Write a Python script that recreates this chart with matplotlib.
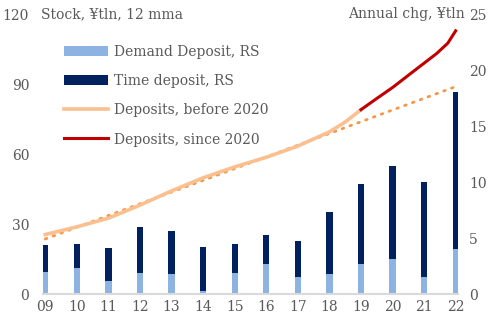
import matplotlib
matplotlib.use("Agg")
import matplotlib.pyplot as plt
from matplotlib.patches import Patch
from matplotlib.lines import Line2D

plt.rcParams['font.family'] = ['DejaVu Serif']

years = ["09", "10", "11", "12", "13", "14", "15", "16", "17", "18", "19", "20", "21", "22"]
demand = [2.0, 2.3, 1.2, 1.9, 1.8, 0.3, 1.85, 2.7, 1.5, 1.75, 2.65, 3.1, 1.55, 4.0]
total_chg = [4.4, 4.5, 4.1, 6.0, 5.65, 4.2, 4.5, 5.3, 4.7, 7.35, 9.8, 11.45, 10.0, 18.05]
time_dep = [t - d for t, d in zip(total_chg, demand)]

before_x = [0, 1, 2, 3, 4, 5, 6, 7, 8, 9, 9.5, 10]
before_y = [25.5, 28.8, 32.5, 38.1, 44.2, 49.8, 54.5, 58.6, 63.4, 69.5, 73.7, 79.0]
since_x = [10, 10.5, 11, 11.65, 12.4, 12.75, 13]
since_y = [79.0, 83.8, 88.5, 95.3, 103.1, 107.5, 112.8]
trend_x = [0, 13]
trend_y = [23.6, 88.9]

grey = "#595959"
fig = plt.figure(figsize=(4.95, 3.26), dpi=100)
ax = fig.add_axes([0.087, 0.098, 0.838, 0.859])
ax2 = ax.twinx()

ax.set_zorder(2)
ax.patch.set_visible(False)

xs = list(range(len(years)))
w = 0.2
ax2.bar(xs, demand, width=w, color="#8DB3E2", zorder=2)
ax2.bar(xs, time_dep, width=w, bottom=demand, color="#002060", zorder=2)

ax.plot(trend_x, trend_y, color="#F79646", lw=2.0, linestyle=(0, (0.6, 2.4)), dash_capstyle="round", zorder=3)
ax.plot(before_x, before_y, color="#FAC090", lw=2.6, zorder=4)
ax.plot(since_x, since_y, color="#C00000", lw=2.2, zorder=5)

ax.set_xlim(-0.07, 13.07)
ax.set_ylim(0, 120)
ax2.set_ylim(0, 25)
ax.set_yticks([0, 30, 60, 90, 120])
ax2.set_yticks([0, 5, 10, 15, 20, 25])
ax.set_xticks(xs)
ax.set_xticklabels(years)

for a in (ax, ax2):
    for s in a.spines.values():
        s.set_visible(False)
    a.tick_params(length=0, colors=grey, labelsize=10)
ax.spines['bottom'].set_visible(True)
ax.spines['bottom'].set_color("#D9D9D9")
ax.spines['bottom'].set_linewidth(1.5)
ax.tick_params(axis='y', pad=10)
ax2.tick_params(axis='y', pad=8)
ax.tick_params(axis='x', pad=4)

ax.text(-0.005, 1.0, "Stock, ¥tln, 12 mma", transform=ax.transAxes, color=grey,
        fontsize=10, ha='left', va='center')
ax.text(1.017, 1.0, "Annual chg, ¥tln", transform=ax.transAxes, color=grey,
        fontsize=10, ha='right', va='center')

handles = [Patch(facecolor="#8DB3E2", edgecolor="none"),
           Patch(facecolor="#002060", edgecolor="none"),
           Line2D([], [], color="#FAC090", lw=2.6),
           Line2D([], [], color="#C00000", lw=2.2)]
labels = ["Demand Deposit, RS", "Time deposit, RS", "Deposits, before 2020", "Deposits, since 2020"]
leg = ax.legend(handles, labels, loc='upper left', bbox_to_anchor=(0.02, 0.935), frameon=False,
                fontsize=10, labelcolor=grey, handlelength=3.2, handleheight=0.8,
                labelspacing=1.1, handletextpad=0.4)

fig.savefig("out.png", dpi=100)
